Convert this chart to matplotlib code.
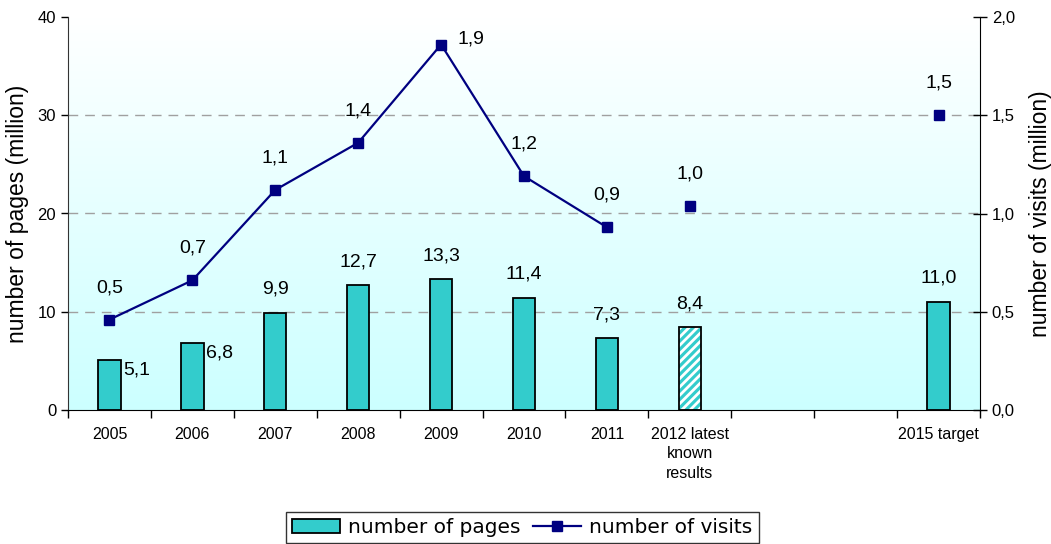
import numpy as np
import matplotlib.pyplot as plt
from matplotlib.patches import Patch
from matplotlib.lines import Line2D
from matplotlib.ticker import FixedLocator

plt.rcParams['font.family'] = ['Liberation Sans', 'DejaVu Sans']
plt.rcParams['hatch.linewidth'] = 2.0

# data
categories = ["2005", "2006", "2007", "2008", "2009", "2010", "2011",
              "2012 latest\nknown\nresults", "", "", "2015 target"]
pages = [5.1, 6.8, 9.9, 12.7, 13.3, 11.4, 7.3, 8.4, np.nan, np.nan, 11.0]
visits = [0.46, 0.66, 1.12, 1.36, 1.86, 1.19, 0.93, 1.04, np.nan, np.nan, 1.50]
n_connected = 7      # the line joins 2005..2011 only
hatched_idx = 7      # 2012 = latest known results

teal = '#33CCCC'
navy = '#000080'

fig = plt.figure(figsize=(10.51, 5.44), dpi=100)
ax = fig.add_axes([68/1051, 1-410/544, 912/1051, 393/544])
x = np.arange(len(categories))

# background gradient white -> light cyan
grad = np.linspace(0, 1, 256).reshape(-1, 1)
top = np.array([1.0, 1.0, 1.0])
bot = np.array([204, 255, 255]) / 255
img = top + (bot - top) * grad[..., None]
ax.imshow(img, extent=(-0.5, len(categories) - 0.5, 0, 40), aspect='auto',
          zorder=0, interpolation='bilinear')

ax.set_xlim(-0.5, len(categories) - 0.5)
ax.set_ylim(0, 40)

for yv in [10, 20, 30]:
    ax.axhline(yv, color='#a0a0a0', lw=1, ls=(0, (7, 5)), zorder=1)

bw = 0.27
for i, v in enumerate(pages):
    if np.isnan(v):
        continue
    if i == hatched_idx:
        ax.bar(x[i], v, bw, color=teal, edgecolor='white', hatch='////', lw=0, zorder=2)
        ax.bar(x[i], v, bw, fill=False, edgecolor='black', lw=1.3, zorder=3)
    else:
        ax.bar(x[i], v, bw, color=teal, edgecolor='black', lw=1.3, zorder=2)

# bar labels
for i, v in enumerate(pages):
    if np.isnan(v):
        continue
    txt = f"{v:.1f}".replace('.', ',')
    if i in (0, 1):
        ax.annotate(txt, (x[i], v), xytext=(10, -7), textcoords='offset points',
                    ha='left', va='center', fontsize=14)
    else:
        ax.annotate(txt, (x[i], v), xytext=(0, 17), textcoords='offset points',
                    ha='center', va='center', fontsize=14)

ax.set_yticks([0, 10, 20, 30, 40])
ax.tick_params(axis='y', direction='out', length=5, labelsize=12, width=1)
ax.set_ylabel("number of pages (million)", fontsize=16.5, labelpad=6)

ax.xaxis.set_major_locator(FixedLocator(x))
ax.set_xticklabels(categories, fontsize=11.5, linespacing=1.4, va='top')
ax.tick_params(axis='x', which='major', length=0, pad=12)
ax.xaxis.set_minor_locator(FixedLocator(np.arange(-0.5, len(categories), 1.0)))
ax.tick_params(axis='x', which='minor', length=6, direction='out', width=1)
ax.spines['top'].set_visible(False)
ax.spines['right'].set_visible(False)
ax.spines['left'].set_color('#333333')

# secondary axis
ax2 = ax.twinx()
ax2.set_ylim(0, 2.0)
ax2.plot(x[:n_connected], visits[:n_connected], color=navy, lw=1.6,
         marker='s', ms=7, zorder=4)
ax2.plot(x[n_connected:], visits[n_connected:], color=navy, lw=0,
         marker='s', ms=7, zorder=4)
for i, v in enumerate(visits):
    if np.isnan(v):
        continue
    txt = f"{v:.1f}".replace('.', ',')
    if i == 4:
        ax2.annotate(txt, (x[i], v), xytext=(12, 4), textcoords='offset points',
                     ha='left', va='center', fontsize=14)
    else:
        ax2.annotate(txt, (x[i], v), xytext=(0, 23), textcoords='offset points',
                     ha='center', va='center', fontsize=14)

ax2.set_yticks([0, 0.5, 1.0, 1.5, 2.0])
ax2.set_yticklabels([f"{t:.1f}".replace('.', ',') for t in [0, 0.5, 1.0, 1.5, 2.0]])
ax2.tick_params(axis='y', direction='inout', length=10, labelsize=12, width=1)
ax2.set_ylabel("number of visits (million)", fontsize=16.5, labelpad=10)
ax2.spines['top'].set_visible(False)
ax2.spines['left'].set_visible(False)
ax2.spines['bottom'].set_visible(False)

handles = [Patch(facecolor=teal, edgecolor='black', lw=1.3),
           Line2D([], [], color=navy, lw=1.6, marker='s', ms=7)]
leg = fig.legend(handles, ["number of pages", "number of visits"],
                 loc='upper center', bbox_to_anchor=(0.497, 0.059), ncol=2,
                 frameon=True, fancybox=False, borderaxespad=0,
                 prop={'family': 'DejaVu Sans', 'size': 14.5},
                 handlelength=2.4, columnspacing=0.6, handletextpad=0.4,
                 borderpad=0.3)
leg.get_frame().set_edgecolor('black')
leg.get_frame().set_linewidth(1)

fig.savefig("out.png", dpi=100)
